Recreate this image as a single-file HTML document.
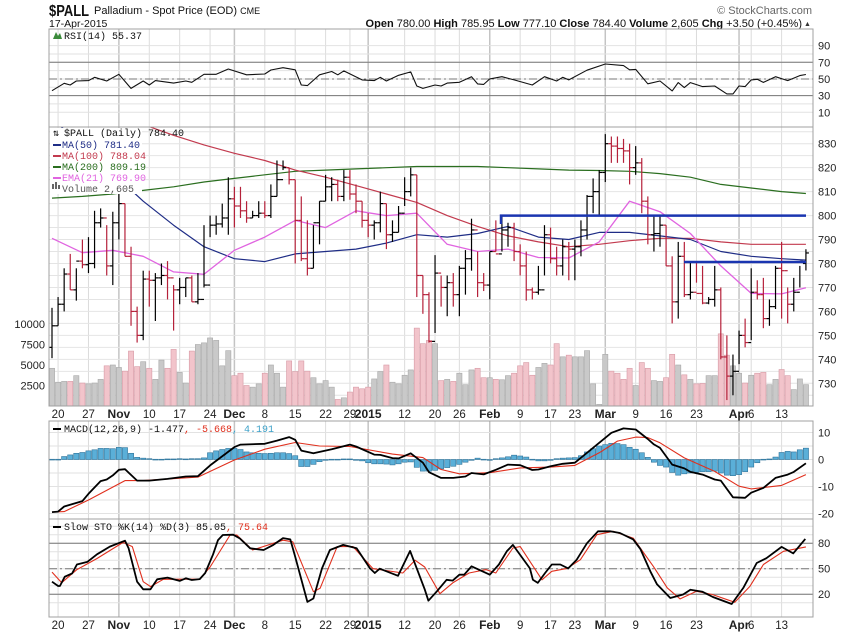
<!DOCTYPE html>
<html><head><meta charset="utf-8"><style>
body{margin:0;background:#fff;}
svg{display:block;font-family:"Liberation Sans",sans-serif;}
.ax{font-size:11px;fill:#222;}
.lg{font-family:"Liberation Mono",monospace;font-size:10px;}
</style></head><body>
<svg id="c" width="850" height="633" viewBox="0 0 850 633">
<defs>
<clipPath id="cr"><rect x="49" y="29" width="764" height="98"/></clipPath>
<clipPath id="cp"><rect x="49" y="127" width="764" height="279"/></clipPath>
<clipPath id="cm"><rect x="49" y="421" width="764" height="98"/></clipPath>
<clipPath id="cs"><rect x="49" y="519" width="764" height="98"/></clipPath>
</defs>
<text x="49" y="16" font-size="16" font-weight="bold" fill="#111" textLength="40" lengthAdjust="spacingAndGlyphs">$PALL</text>
<text x="94" y="14" font-size="11" fill="#111">Palladium - Spot Price (EOD) <tspan font-size="9">CME</tspan></text>
<text x="49" y="27" font-size="10.5" fill="#111">17-Apr-2015</text>
<text x="812" y="14" font-size="11" fill="#666" text-anchor="end">© StockCharts.com</text>
<text x="802" y="27" font-size="11" fill="#111" text-anchor="end"><tspan font-weight="bold">Open</tspan> 780.00 <tspan font-weight="bold">High</tspan> 785.95 <tspan font-weight="bold">Low</tspan> 777.10 <tspan font-weight="bold">Close</tspan> 784.40 <tspan font-weight="bold">Volume</tspan> 2,605 <tspan font-weight="bold">Chg</tspan> +3.50 (+0.45%)</text>
<text x="804" y="26" font-size="7" fill="#333">▲</text>
<g id="g"></g>
</svg>
<script>
const highs=[761.5,766,778,784,778,790,791,802,803,796,801.6,809,805,787,762,777,777,776,780,781,771,774,774,775,776,796,800,800,805,816,812,812,806,802,806,806,813,823,823,820,815,
808,798,796,806,817,816,815,819,819,813,806,801,798,810,805,798,804,816,820,817,775,768,783.5,775,775,776,779,785.6,798.7,785,776,785,798,800,797,797,788,785,770,779,796,795,787,790,789,790,
798,808.6,815.5,819,834,833,833,832,830,829,824,808,800,800,796,783,789,789,781,781,779,766,779,770,750,742,752,757,778,773,774,765,779,789,770,774,779,785.95];
const lows=[740.5,754,760,769,764.5,778,776,778,795,775,771,790,783,754,747,748,762,756,771,765,752,763,766,764,763,770,791,792,795,792,795,799,797,799,799,799,799,808,819,813,780,
781,775,778,788,806,806,806,806,806.6,801,795,791,790,793,786,789,793,804,808,766,759,747,751,762,758,762,758,767,777,766,768.5,765,785,785,787,781,775,764.5,765,767,775,780,775,775,773,773,
783,790,801,800,814,822,822,822,813,817,801,788,785,787,779,755,757,766,765,772,763,763,762,740,723,725,738,745,748,765,753,754,761,757,755,760,770,777.1];
const closes=[754,763,775.6,769,781,779.5,780,797,799,779,797,805,783,760,750,773.5,773,774,775,774,769,770,774,764,765,771,796,796.5,799,807,804,802,799,800,801,800,808,815,820,815,798,
782,778,797,806,812,813,808,816,809,806,798,796,797,805,792,793,801,810,817,775,767,747.5,776,770,772,767,778,782,794,772,771,785,784,794,795,785,779,769,768,769,792,782,779,787,786,787,
794,808,810,818,830,829,828,827,820,822,806,792,792.5,796,779,764,783,767,768,767.5,763.5,765,769,741,733,735,750,747,768,767,757,762,778,777,763,768,780.9,784.4];
const volumes=[4.6,2.9,3.0,3.0,3.7,2.8,2.7,2.8,3.25,4.9,5.0,4.7,4.25,6.7,4.8,5.4,4.6,3.25,5.6,4.6,6.9,4.1,2.8,6.7,7.5,7.7,8.3,8.0,4.9,6.75,3.7,4.0,2.5,2.3,2.7,4.0,5.0,4.0,2.3,5.5,4.2,
5.5,4.25,3.45,2.7,3.1,2.3,0.8,1.0,1.7,2.3,2.1,2.3,3.3,4.2,5.0,2.9,2.7,3.75,4.4,9.5,7.6,8.0,7.6,3.1,3.25,3.0,4.0,2.6,4.4,4.6,3.45,3.45,3.25,3.2,3.7,4.0,4.9,5.3,3.75,4.7,5.2,5.0,7.6,6.0,6.2,6.0,
6.0,6.75,2.7,0.2,6.3,4.25,4.0,3.25,4.6,2.5,5.3,4.6,3.1,3.0,3.45,6.3,5.0,3.8,3.25,2.7,2.75,3.7,3.7,8.8,6.2,4.9,4.0,2.8,3.75,4.0,4.1,2.6,3.25,4.45,3.7,2.0,3.3,2.605];
const maIdx=[0,5,10,15,20,25,30,35,40,45,50,55,60,65,70,75,80,85,90,95,100,105,110,115,120,124];
const ma200=[807.3,808,809,810.5,812,814,815.5,817,818.5,819,819.5,820,820.5,820.5,820.5,820,819.5,819,818.8,818.5,817.5,816,813,811.5,810,809.2];
const ma100=[858,851,845,838,833.5,829.5,826,823,819,816,812.5,809,805.5,800,795.5,791.5,789,787,788,789.5,790.5,790.5,789,788,788,788];
const ma50Idx=[0,5,10,12,15,20,25,30,35,40,45,50,55,60,65,70,75,80,85,90,95,100,105,110,115,120,124];
const ma50=[840,830,819,813,806,796,787,782,780.8,784,785,786,788.5,792,791,792.5,795.5,791,790,793,793,791.5,790,785,783,782,781.4];
const ema21=[790.5,784.5,785.5,783,776.5,775.5,785.5,791,798,795,802,800,801,788,785,786,782.5,782.3,789,806,801.6,792.5,779,767.5,767.3,769.9];
const rsiIdx=[0,2,3,4,6,7,9,11,13,15,16,17,20,22,23,25,27,29,32,35,36,38,40,41,42,44,46,47,48,51,53,54,55,57,59,60,61,63,64,65,67,69,70,71,72,74,76,79,81,83,84,85,88,91,94,95,96,98,100,102,103,104,105,107,109,111,112,113,114,115,116,117,119,121,123,124];
const rsiVal=[35.9,44.8,42.7,47.5,48,52,47.5,55.6,38.7,47.5,42.7,48,45,47.5,46,55.6,55.6,62,55,56,60.7,63.5,61,42.7,42,55,59,55,59.7,48.8,48,52,47.5,54.4,58.5,41.5,38.7,42.7,41.5,45,46,52.7,44,43.5,50,52.7,48.8,42.7,52.7,47.5,52,48.8,60.5,68,66,61,61.5,44.2,47.5,35.6,45.6,39.6,45.6,40.8,41.5,32,32,41.5,40.8,48.8,49.6,45.8,52.7,48,54,55.4];
const macdIdx=[0,1,2,5,6,8,9,10,11,12,14,16,19,22,24,26,30,31,35,37,39,40,41,43,46,49,50,53,54,56,57,59,61,62,64,66,68,69,71,73,75,77,79,80,82,84,86,88,90,92,94,96,98,99,100,102,104,105,107,109,110,112,114,115,117,119,121,122,124];
const macdVal=[-19.5,-19.3,-17.4,-15.4,-12.7,-8,-7.4,-5.9,-3.8,-3.6,-7.8,-7.8,-7.2,-6.3,-6.2,-2.2,4.6,5.5,5.8,7,8.3,7.3,3.3,2.3,3.8,5.5,4.8,1.8,1.7,0.5,0.4,2.3,-1.2,-4.7,-6.8,-6.8,-6.3,-5,-5.5,-3.8,-1.9,-2.1,-3.9,-3.7,-2.5,-1.6,-1.2,2.5,6.2,9.9,11.5,11.1,7.6,5.6,4.3,-1.9,-3.3,-4.6,-5.6,-7.4,-7.8,-14,-14.2,-12.3,-10.5,-6.8,-5.6,-4.6,-1.4];
const sigIdx=[0,2,6,12,15,24,30,35,40,44,49,56,61,64,67,72,77,82,86,90,93,96,98,100,104,109,113,115,120,124];
const sigVal=[-19.5,-19.3,-15,-7.8,-7.8,-6.5,-0.2,3.8,6.3,5,4.8,2,0.7,-3.7,-5.3,-4.9,-3.1,-2.8,-2.2,2.5,6.8,8.3,8.1,6.2,0.6,-4.4,-9.9,-10.9,-9.6,-5.6];
const histVal=[0.1,0.1,1.1,1.7,2.3,2.6,3.2,3.6,4.1,4.1,4.0,4.5,4.4,2.3,0.8,0.5,0.3,0.1,0.1,0.2,0.2,0.3,0.2,0.3,0.3,0.6,2.5,3.2,3.7,4.1,4.1,3.7,2.8,2.5,2.3,2.2,2.3,2.5,2.5,2.2,1.4,-2.6,-2.6,-1.8,-0.8,-0.2,0.1,0.1,0.2,0.2,-0.2,-0.5,-1.2,-1.6,-1.6,-1.7,-2.0,-1.6,-1.0,-0.9,-2.9,
-4.3,-4.3,-4.0,-3.5,-3.0,-2.5,-1.8,-1.0,-0.3,0.5,0.1,-0.2,0.3,0.6,1.0,1.6,1.3,0.9,0.1,-0.5,-0.5,-0.2,0.3,0.5,0.6,0.7,1.4,2.8,4.0,5.0,5.5,6.0,5.9,5.5,4.5,3.8,2.5,0.8,-1.0,-2.2,-2.8,-4.8,-5.8,-5.3,-5.0,-4.7,-4.5,-4.5,-4.3,-5.0,-5.8,-6.0,-5.6,-4.5,-2.8,-1.2,0.1,0.2,0.9,2.6,3.0,2.8,3.6,4.2];
const kIdx=[0,1,1.3,2.1,3.3,4.1,5.8,7.4,9.5,12,12.6,14,15,16.2,17.3,19,21,22,23,24.3,25.2,26.5,27.3,28.1,29.8,30.9,32.6,34.8,36.4,38,39.2,40,42,43,44.4,45.7,47.9,50.1,52.3,53.1,53.9,56.9,58.9,61.3,61.9,63.3,64.9,65.9,67,67.8,69,72,73.5,74.8,75.8,78.6,79.1,79.9,81.1,82.2,83.6,84.9,86.3,88,89.8,91.8,93.4,95.6,96.8,98.4,99.5,101.7,103.8,105,107,108.7,111.8,113.7,115.9,117.5,120,121.9,123.9];
const kVal=[34.7,29.6,29.6,40.6,44.5,55,58,67,76,83,74,34.7,25.8,25.8,37.5,39.5,35.6,38.7,36.7,37.8,45,67,83.6,89.6,90,85.5,74,72,78,86,84.5,64,11,15,50.4,72,78,74,50.4,45,50,41.6,71,25.8,12.4,23.4,37,36,43,43,52.8,43,55,70.5,78,50.4,37,33.3,45,55,55,50.4,60.6,80,94,94,92,84.5,73,47,31.6,15.5,19.6,25.3,22.8,16.7,8.5,27.4,56.7,62.4,75.7,68,85.05];
const dIdx=[0,1.6,4.1,7.4,11.7,13.2,15,16.2,18.3,24.3,26,29.3,30.4,33,38,39.6,43,44.1,46.9,49.5,52.8,57.7,59.7,61.3,63.8,65.9,68.6,71.4,73,75.8,77,80.6,82.2,84.7,86.9,89.6,92.3,95.6,98.9,101.2,103.3,106,108.6,112.3,114.8,117,120.3,124];
const dVal=[46,33.5,49,62,81,76,34.7,29,37.5,37.8,52,89.6,89.6,72,83.5,81.6,23,27,76,76,50,45,60,52,20.6,33.3,45,49,45,74.4,76,37,47,50.4,60.6,90,94,86,52.8,27.4,14.5,23.4,19.6,10.5,29.4,54.9,70.5,75.64];
const tickIdx=[1,6,11,16,21,26,30,35,40,45,49,52,58,63,67,72,77,82,86,91,96,101,106,113,115,120];
const tickLbl=["20","27","Nov","10","17","24","Dec","8","15","22","29","2015","12","20","26","Feb","9","17","23","Mar","9","16","23","Apr","6","13"];
const tickMajor=[0,0,1,0,0,0,1,0,0,0,0,1,0,0,0,1,0,0,0,1,0,0,0,1,0,0];

const NS="http://www.w3.org/2000/svg";
const G=document.getElementById('g');
function mk(t,a,p){const e=document.createElementNS(NS,t);for(const k in a)e.setAttribute(k,a[k]);(p||G).appendChild(e);return e;}
const xi=i=>52+i*6.08;
const yP=p=>143.7+(830-p)*2.396;
const yV=v=>406-v*8.2;
const yR=v=>62.3+(70-v)*0.8325;
const yM=v=>459.5-v*2.7;
const yS=v=>568.7-(v-50)*0.85;
const L=49,R=813;
const panels=[[29,127],[127,406],[421,519],[519,617]];

for(let k=0;k<tickIdx.length;k++){
  for(const [t,b] of panels){
    const l=mk('line',{x1:xi(tickIdx[k]),x2:xi(tickIdx[k]),y1:t,y2:b,stroke:tickMajor[k]?'#c4c4c4':'#dcdcdc','stroke-width':tickMajor[k]?1.5:1});
    
    
  }
}
function hgrid(y,col,dash,w){const l=mk('line',{x1:L,x2:R,y1:y,y2:y,stroke:col,'stroke-width':w||1});if(dash)l.setAttribute('stroke-dasharray',dash);return l;}
function alabel(x,y,s,name){const t=mk('text',{x:x,y:y+4,class:'ax'});t.textContent=s;}
for(let v=10;v<=90;v+=10){hgrid(yR(v),'#e2e2e2');}
hgrid(yR(70),'#777');hgrid(yR(30),'#777');hgrid(yR(50),'#777','8,3,2,3');
[90,70,50,30,10].forEach(v=>alabel(818,yR(v),String(v),'rsi-axis-label'));
for(let p=725;p<=835;p+=5){hgrid(yP(p),'#e4e4e4');}
for(let p=730;p<=830;p+=10)alabel(818,yP(p),String(p),'price-axis-label');
[2500,5000,7500,10000].forEach(v=>{const t=mk('text',{x:45,y:yV(v/1000)+4,class:'ax','text-anchor':'end'});t.textContent=String(v);});
for(let v=-20;v<=10;v+=5)hgrid(yM(v),'#e2e2e2');
[10,0,-10,-20].forEach(v=>alabel(818,yM(v),String(v),'macd-axis-label'));
for(let v=10;v<=100;v+=10)hgrid(yS(v),'#e2e2e2');
hgrid(yS(80),'#777');hgrid(yS(20),'#777');hgrid(yS(50),'#777','8,3,2,3');
[80,50,20].forEach(v=>alabel(818,yS(v),String(v),'sto-axis-label'));

const gp=mk('g',{'clip-path':'url(#cp)'});
for(let i=0;i<volumes.length;i++){
  const down=i>0&&closes[i]<closes[i-1];
  const r=mk('rect',{x:xi(i)-2.6,y:yV(volumes[i]),width:5.2,height:406-yV(volumes[i]),fill:down?'#f2c4cb':'#c9c9c9',stroke:down?'#d79aa5':'#a8a8a8','stroke-width':0.6},gp);
  
  
}
function line(idx,vals,fy,col,w,par,name){
  const pts=idx.map((k,j)=>xi(k).toFixed(1)+','+fy(vals[j]).toFixed(1)).join(' ');
  const pl=mk('polyline',{points:pts,fill:'none',stroke:col,'stroke-width':w,'stroke-linejoin':'round'},par);
  
  
}
line(maIdx,ma200,yP,'#2a6e1f',1.2,gp,'ma200-line');
line(maIdx,ma100,yP,'#c23a4e',1.2,gp,'ma100-line');
line(ma50Idx,ma50,yP,'#1f2d86',1.2,gp,'ma50-line');
line(maIdx,ema21,yP,'#e064e0',1.3,gp,'ema21-line');
for(let i=0;i<closes.length;i++){
  const down=i>0&&closes[i]<closes[i-1];
  const col=down?'#b5213a':'#000';
  const x=xi(i);
  const o=i===closes.length-1?780:(i>0?closes[i-1]:745);
  const bg=mk('g',{stroke:col,'stroke-width':1.2},gp);
  
  
  mk('line',{x1:x,x2:x,y1:yP(highs[i]),y2:yP(lows[i])},bg);
  mk('line',{x1:x-3,x2:x,y1:yP(o),y2:yP(o)},bg);
  mk('line',{x1:x,x2:x+3,y1:yP(closes[i]),y2:yP(closes[i])},bg);
}
const s1=mk('path',{d:`M501 ${yP(796.5)}V${yP(800)}H806`,stroke:'#1a35b0','stroke-width':2.5,fill:'none'},gp);


const s2=mk('line',{x1:684,x2:806,y1:yP(780.6),y2:yP(780.6),stroke:'#1a35b0','stroke-width':2.5},gp);


// legend background box
const lb=mk('rect',{x:50,y:128,width:92,height:66,fill:'#fff'},gp);



const gr=mk('g',{'clip-path':'url(#cr)'});
line(rsiIdx,rsiVal,yR,'#111',1.1,gr,'rsi-line');
const gm=mk('g',{'clip-path':'url(#cm)'});
for(let i=0;i<histVal.length;i++){
  const y0=yM(0),y1=yM(histVal[i]);
  const r=mk('rect',{x:xi(i)-2.6,y:Math.min(y0,y1),width:5.2,height:Math.max(0.8,Math.abs(y1-y0)),fill:'#5aafd8',stroke:'#2f7399','stroke-width':0.6},gm);
  
  
}
line(sigIdx,sigVal,yM,'#e0301e',1.1,gm,'macd-signal-line');
line(macdIdx,macdVal,yM,'#000',1.8,gm,'macd-line');
const gs=mk('g',{'clip-path':'url(#cs)'});
line(dIdx,dVal,yS,'#e0301e',1.1,gs,'sto-d-line');
line(kIdx,kVal,yS,'#000',1.8,gs,'sto-k-line');

[418,629].forEach((yy,n)=>{
  for(let k=0;k<tickIdx.length;k++){
    const t=mk('text',{x:xi(tickIdx[k]),y:yy,'text-anchor':'middle','font-size':tickMajor[k]?12:11.5,'font-weight':tickMajor[k]?'bold':'normal',fill:'#222'});
    t.textContent=tickLbl[k];
    
    
  }
});
panels.forEach(([t,b])=>{const r=mk('rect',{x:L,y:t,width:R-L,height:b-t,fill:'none',stroke:'#a0a0a0','stroke-width':1});});

function lg(x,y,parts,name){const t=mk('text',{x:x,y:y,class:'lg'});parts.forEach(([s,c])=>{const sp=mk('tspan',{fill:c},t);sp.textContent=s;});return t;}
lg(64,39,[['RSI(14) 55.37','#111']],'rsi-legend');
mk('path',{d:'M53 39 L56 32 L58 36 L60 33 L62 39 Z',fill:'#3a8a3a'});
lg(64,136,[['$PALL (Daily) 784.40','#111']],'price-legend');
lg(53,136,[['⇅','#111']],'price-legend-icon');
const leg=[['MA(50) 781.40','#1f2d86'],['MA(100) 788.04','#c23a4e'],['MA(200) 809.19','#2a6e1f'],['EMA(21) 769.90','#e064e0']];
leg.forEach((d,j)=>{const y=148+j*11;mk('rect',{x:53,y:y-4,width:8,height:2,fill:d[1]});lg(62,y,[[d[0],d[1]]],'legend-entry');});
mk('rect',{x:52,y:184,width:2,height:5,fill:'#666'});mk('rect',{x:55,y:182,width:2,height:7,fill:'#666'});mk('rect',{x:58,y:185,width:2,height:4,fill:'#666'});
lg(62,192,[['Volume 2,605','#555']],'legend-entry');
mk('rect',{x:53,y:428,width:8,height:2,fill:'#000'});
lg(64,432,[['MACD(12,26,9) -1.477','#111'],[', -5.668','#e0301e'],[', 4.191','#3aa0c8']],'macd-legend');
mk('rect',{x:53,y:526,width:8,height:2,fill:'#000'});
lg(64,530,[['Slow STO %K(14) %D(3) 85.05','#111'],[', 75.64','#e0301e']],'sto-legend');
</script>
</body></html>
